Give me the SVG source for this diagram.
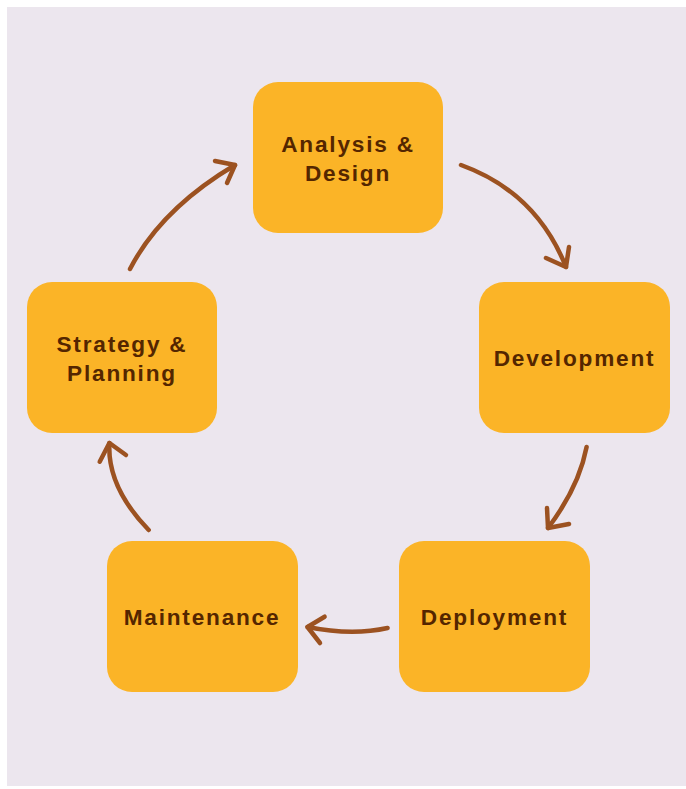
<svg xmlns="http://www.w3.org/2000/svg" width="686" height="789" viewBox="0 0 686 789">
<style>
.box{fill:#FBB427}
.lbl{font-family:"Liberation Sans",Arial,sans-serif;font-weight:bold;font-size:22.6px;letter-spacing:1.8px;fill:#542600;text-anchor:middle}
.arr{fill:none;stroke:#9C5221;stroke-width:4.5;stroke-linecap:round;stroke-linejoin:round}
</style>
<rect x="0" y="0" width="686" height="789" fill="#FFFFFF"/>
<rect x="7" y="7" width="679" height="779" fill="#ECE6EE"/>
<g id="analysis">
<rect class="box" x="253" y="82" width="190" height="151" rx="25"/>
<text class="lbl" x="348" y="151.7">Analysis &amp;</text>
<text class="lbl" x="348" y="180.7">Design</text>
</g>
<g id="development">
<rect class="box" x="479" y="282" width="191" height="151" rx="25"/>
<text class="lbl" x="574.5" y="366">Development</text>
</g>
<g id="deployment">
<rect class="box" x="399" y="541" width="191" height="151" rx="25"/>
<text class="lbl" x="494.5" y="625">Deployment</text>
</g>
<g id="maintenance">
<rect class="box" x="107" y="541" width="191" height="151" rx="25"/>
<text class="lbl" x="202" y="625">Maintenance</text>
</g>
<g id="strategy">
<rect class="box" x="27" y="282" width="190" height="151" rx="25"/>
<text class="lbl" x="122" y="351.7">Strategy &amp;</text>
<text class="lbl" x="122" y="380.7">Planning</text>
</g>
<g id="connectors">
<path class="arr" d="M130,269 Q161,209 235,165"/>
<polyline class="arr" points="215,161 235,165 227,183"/>
<path class="arr" d="M461,165 Q536,192 566,267"/>
<polyline class="arr" points="546,258 566,267 569,247"/>
<path class="arr" d="M586.6,447 Q579,487 548,528"/>
<polyline class="arr" points="547,508 548,528 569,524"/>
<path class="arr" d="M387.6,628 Q352,636 307.5,627"/>
<polyline class="arr" points="324.6,616.7 307.5,627 320,643"/>
<path class="arr" d="M148.7,530 Q107,487 109.4,443"/>
<polyline class="arr" points="99.7,461.7 109.4,443 126,455"/>
</g>
</svg>
